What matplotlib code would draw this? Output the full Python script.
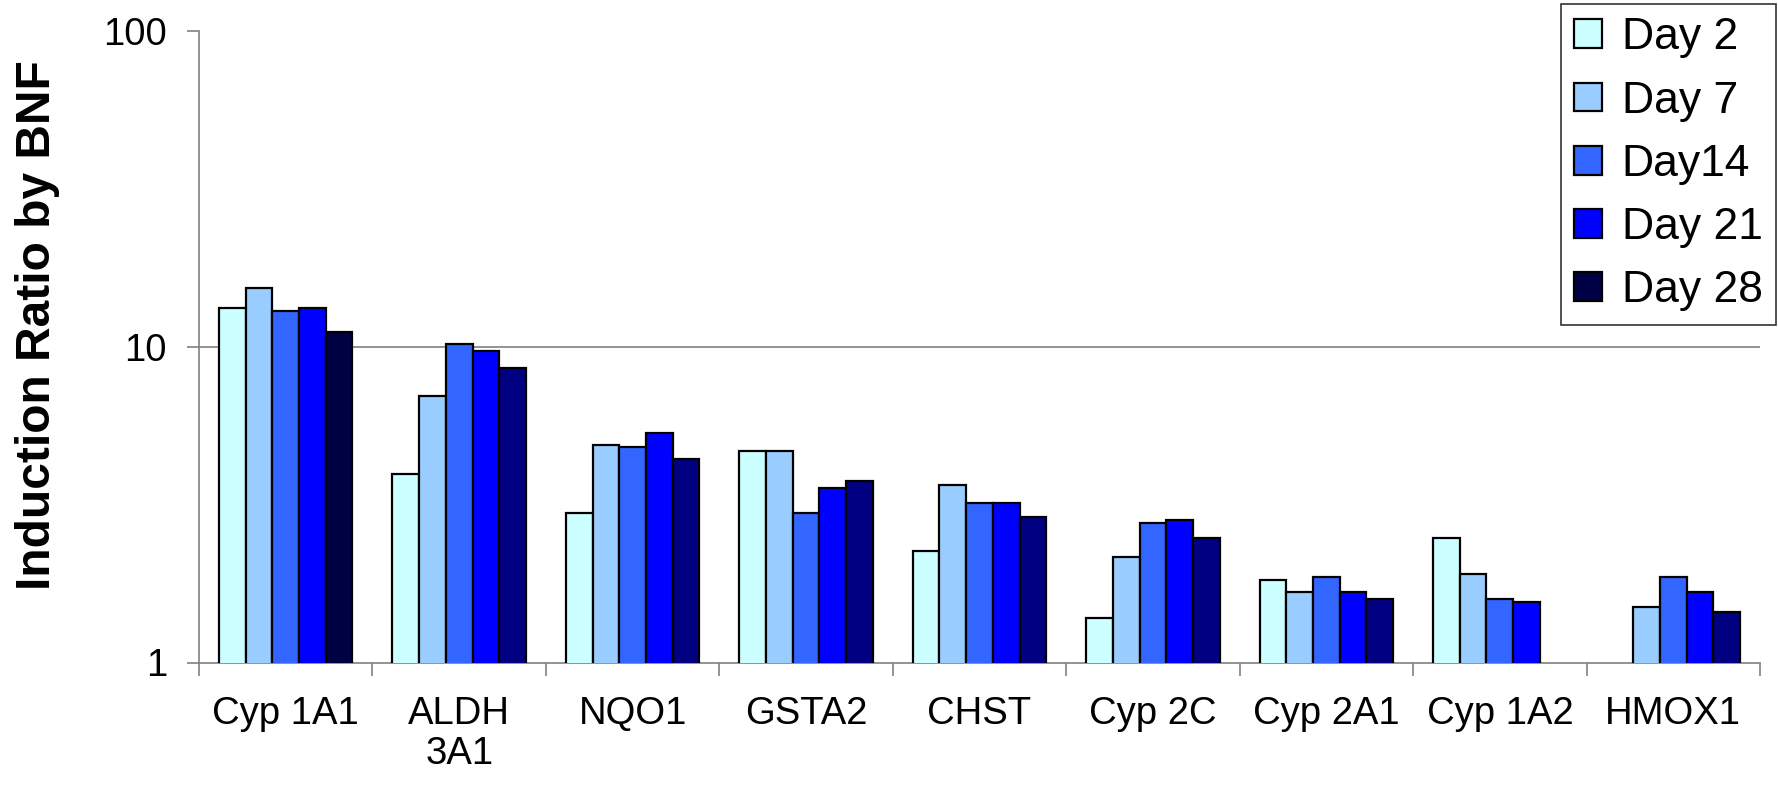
import numpy as np
import matplotlib.pyplot as plt
from matplotlib.ticker import NullLocator, FixedLocator

plt.rcParams['font.family'] = ['Liberation Sans', 'DejaVu Sans']

genes = ['Cyp 1A1', 'ALDH\n3A1', 'NQO1', 'GSTA2', 'CHST', 'Cyp 2C', 'Cyp 2A1', 'Cyp 1A2', 'HMOX1']
days = ['Day 2', 'Day 7', 'Day14', 'Day 21', 'Day 28']

day2 = [13.3, 3.95, 2.98, 4.67, 2.25, 1.38, 1.83, 2.48, np.nan]
day7 = [15.4, 7.0, 4.9, 4.67, 3.64, 2.16, 1.67, 1.90, 1.50]
day14 = [13.0, 10.2, 4.82, 2.98, 3.21, 2.76, 1.87, 1.59, 1.87]
day21 = [13.3, 9.66, 5.33, 3.58, 3.21, 2.82, 1.67, 1.56, 1.67]
day28 = [11.1, 8.55, 4.4, 3.76, 2.89, 2.48, 1.59, np.nan, 1.44]
series = [day2, day7, day14, day21, day28]

colours = ['#CCFFFF', '#99CCFF', '#3366FF', '#0000FF', '#000080']

fig = plt.figure(figsize=(17.78, 7.85), dpi=100)
ax = fig.add_axes([199/1778, 1-662.5/785, 1561/1778, 631.5/785])
ax.set_yscale('log')

x = np.arange(len(genes))
w = 0.154
base = 0.5  # bars start below the visible axis so their bottom edge is hidden
for i, (vals, c, lab) in enumerate(zip(series, colours, days)):
    h = np.array(vals) - base
    bars = ax.bar(x + (i - 2) * w, h, width=w, bottom=base, color=c,
                  edgecolor='black', linewidth=1.6, label=lab, zorder=3)
    if i == 4:
        bars[0].set_facecolor('#000044')  # first Day 28 bar is darker

ax.axhline(10, color='#808080', linewidth=1.2, zorder=1)
ax.set_ylim(1, 100)
ax.set_xlim(-0.5, len(genes) - 0.5)

# y axis
ax.yaxis.set_major_locator(FixedLocator([1, 10, 100]))
ax.yaxis.set_minor_locator(NullLocator())
ax.set_yticklabels(['1', '10', '100'])
ax.tick_params(axis='y', which='major', length=9, width=1.2, color='#808080',
               labelsize=27.5, pad=14)

# x axis: tick marks on group boundaries, labels at centres
ax.set_xticks(np.arange(-0.5, len(genes)), minor=False)
ax.set_xticklabels([])
ax.set_xticks(x, minor=True)
ax.set_xticklabels(genes, minor=True, fontsize=27.5, linespacing=1.15)
ax.tick_params(axis='x', which='major', length=9, width=1.2, color='#808080')
ax.tick_params(axis='x', which='minor', length=0, pad=24)

for s in ['top', 'right']:
    ax.spines[s].set_visible(False)
for s in ['left', 'bottom']:
    ax.spines[s].set_color('#808080')
    ax.spines[s].set_linewidth(1.2)

fig.text(38/1778, 1-325/785, 'Induction Ratio by BNF', rotation=90,
         ha='center', va='center', fontsize=34.5, fontweight='bold')

leg = fig.legend(loc='upper right', bbox_to_anchor=(1776/1778, 1-4/785),
                 borderaxespad=0, fontsize=32, fancybox=False, frameon=True,
                 handlelength=0.62, handleheight=0.62, handletextpad=0.45,
                 labelspacing=0.5, borderpad=0.3)
leg.get_frame().set_edgecolor('black')
leg.get_frame().set_linewidth(1.2)

plt.savefig('out.png', dpi=100)
